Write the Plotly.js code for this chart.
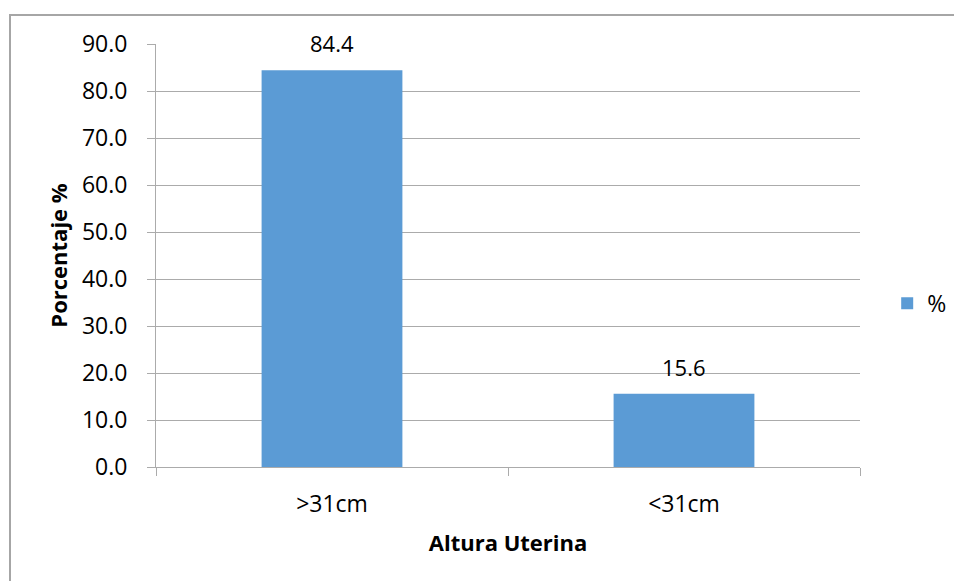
<!DOCTYPE html>
<html>
<head>
<meta charset="utf-8">
<script src="https://cdn.plot.ly/plotly-3.0.1.min.js"></script>
<style>html,body{margin:0;padding:0;background:#fff;overflow:hidden}#chart{width:955px;height:581px;overflow:hidden}</style>
</head>
<body>
<div id="chart"></div>
<script>
const categories = [">31cm", "<31cm"];
const values = [84.4, 15.6];
const valueLabels = ["84.4", "15.6"];
const seriesName = "%";
const yTickVals = [0, 10, 20, 30, 40, 50, 60, 70, 80, 90];
const yTickText = ["0.0", "10.0", "20.0", "30.0", "40.0", "50.0", "60.0", "70.0", "80.0", "90.0"];

const FONT = "Open Sans, Noto Sans, sans-serif";
const GRID = "#ababab";

const trace = {
  type: "bar",
  x: categories,
  y: values,
  name: seriesName,
  marker: {color: "#5B9BD5"},
  showlegend: true
};

const annotations = categories.map((c, i) => ({
  x: c, y: values[i], xref: "x", yref: "y",
  text: valueLabels[i], showarrow: false,
  yanchor: "bottom", yshift: 10,
  font: {family: FONT, size: 22, color: "#000"}
}));

const BX = (10 - 156) / 704;
const BY = (467 - 15) / 423;

const layout = {
  width: 955, height: 581,
  margin: {l: 156, r: 95, t: 44, b: 114, pad: 0},
  paper_bgcolor: "#fff", plot_bgcolor: "#fff",
  bargap: 0.6,
  font: {family: FONT, color: "#000"},
  xaxis: {
    type: "category",
    tickson: "boundaries",
    ticks: "outside", ticklen: 8, tickcolor: GRID, tickwidth: 1,
    showline: true, linecolor: GRID, linewidth: 1,
    showgrid: false, zeroline: false,
    tickfont: {family: FONT, size: 23, color: "#000"},
    ticklabelstandoff: 16,
    title: {text: "<b>Altura Uterina</b>", font: {family: FONT, size: 22, color: "#000"}, standoff: 18},
    automargin: false
  },
  yaxis: {
    range: [0, 90],
    tickvals: yTickVals, ticktext: yTickText,
    ticks: "outside", ticklen: 8, tickcolor: GRID, tickwidth: 1,
    showline: true, linecolor: GRID, linewidth: 1,
    showgrid: true, gridcolor: GRID, gridwidth: 1,
    zeroline: false,
    tickfont: {family: FONT, size: 23, color: "#000"},
    ticklabelstandoff: 15,
    title: {text: "<b>Porcentaje %</b>", font: {family: FONT, size: 22, color: "#000"}, standoff: 8},
    automargin: false
  },
  legend: {
    xref: "container", yref: "container",
    x: 0.929, y: 0.478, xanchor: "left", yanchor: "middle",
    font: {family: FONT, size: 23, color: "#000"},
    bgcolor: "rgba(0,0,0,0)", itemwidth: 30
  },
  annotations: annotations,
  shapes: [
    {type: "path", xref: "paper", yref: "paper",
     path: "M " + BX + " -0.3 L " + BX + " " + BY + " L " + ((954 - 156) / 704) + " " + BY,
     line: {color: "#a6a6a6", width: 2}, fillcolor: "rgba(0,0,0,0)", layer: "below"}
  ]
};

Plotly.newPlot("chart", [trace], layout, {displayModeBar: false, staticPlot: true});
</script>
</body>
</html>
